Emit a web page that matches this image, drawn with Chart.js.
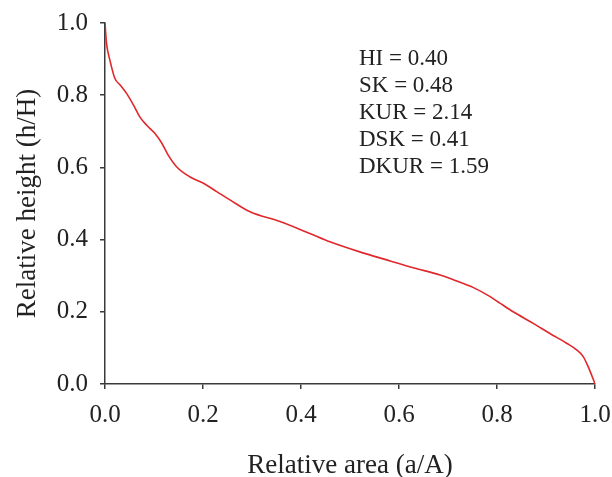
<!DOCTYPE html>
<html lang="en">

<head>
    <meta charset="UTF-8">
    <title>Hypsometric curve</title>
    <script src="https://cdn.jsdelivr.net/npm/chart.js"></script>
    <style>
        html, body { margin: 0; padding: 0; background: #fff; }
        #wrap { width: 612px; height: 477px; }
    </style>
</head>

<body>
    <div id="wrap">
        <canvas id="grafico" width="612" height="477"></canvas>
    </div>
</body>

</html>
<script>
    // relative area (a/A) and relative height (h/H)
    var relArea = [0, 0.003, 0.010, 0.020, 0.031, 0.044, 0.058, 0.071, 0.085, 0.102,
        0.116, 0.129, 0.146, 0.173, 0.201, 0.228, 0.255, 0.296, 0.357, 0.418,
        0.459, 0.520, 0.582, 0.629, 0.684, 0.718, 0.752, 0.786, 0.806, 0.833,
        0.874, 0.908, 0.942, 0.963, 0.976, 0.986, 0.997, 1.0];
    var relHeight = [1.0, 0.945, 0.897, 0.847, 0.828, 0.805, 0.773, 0.740, 0.717, 0.694,
        0.667, 0.634, 0.602, 0.574, 0.556, 0.533, 0.510, 0.477, 0.450, 0.417,
        0.394, 0.366, 0.341, 0.322, 0.302, 0.285, 0.267, 0.242, 0.224, 0.200,
        0.168, 0.140, 0.113, 0.094, 0.076, 0.048, 0.011, 0.0];

    var stats = ["HI = 0.40", "SK = 0.48", "KUR = 2.14", "DSK = 0.41", "DKUR = 1.59"];

    var pontos = [];
    for (var i = 0; i < relArea.length; i++) {
        pontos.push({ x: relArea[i], y: relHeight[i] });
    }

    var fonte = "'Liberation Serif', 'Times New Roman', serif";
    var corEixo = '#3a3a3a';

    // escreve as estatisticas no canto superior direito
    var textoStats = {
        id: 'textoStats',
        afterDraw: function (chart) {
            var ctx = chart.ctx;
            ctx.save();
            ctx.fillStyle = '#222';
            ctx.font = '23px ' + fonte;
            ctx.textBaseline = 'middle';
            ctx.textAlign = 'left';
            for (var k = 0; k < stats.length; k++) {
                ctx.fillText(stats[k], 359, 59 + k * 27);
            }
            ctx.restore();
        }
    };

    var config = {
        type: 'scatter',
        data: {
            datasets: [{
                data: pontos,
                showLine: true,
                borderColor: '#e0282c',
                borderWidth: 1.6,
                pointRadius: 0,
                fill: false,
                cubicInterpolationMode: 'monotone'
            }]
        },
        options: {
            responsive: false,
            animation: false,
            layout: { padding: { top: 23, right: 17, bottom: 0, left: 0 } },
            plugins: {
                legend: { display: false },
                tooltip: { enabled: false }
            },
            scales: {
                x: {
                    type: 'linear',
                    min: 0,
                    max: 1,
                    afterFit: function (s) {
                        s.height = 93;
                        s.paddingLeft = 0;
                        s.paddingRight = 0;
                    },
                    ticks: {
                        stepSize: 0.2,
                        color: '#222',
                        padding: 11,
                        maxRotation: 0,
                        font: { family: fonte, size: 25 },
                        callback: function (v) { return v.toFixed(1); }
                    },
                    grid: { drawOnChartArea: false, drawTicks: true, tickLength: 5, color: corEixo, lineWidth: 1.5 },
                    border: { display: true, color: corEixo, width: 1.5 },
                    title: {
                        display: true,
                        text: 'Relative area (a/A)',
                        color: '#222',
                        font: { family: fonte, size: 27, lineHeight: 1.0 },
                        padding: { top: 0, bottom: -2 }
                    }
                },
                y: {
                    type: 'linear',
                    min: 0,
                    max: 1,
                    afterFit: function (s) {
                        s.width = 105;
                        s.paddingTop = 0;
                        s.paddingBottom = 0;
                    },
                    ticks: {
                        stepSize: 0.2,
                        color: '#222',
                        padding: 12,
                        font: { family: fonte, size: 25 },
                        callback: function (v) { return v.toFixed(1); }
                    },
                    grid: { drawOnChartArea: false, drawTicks: true, tickLength: 5, color: corEixo, lineWidth: 1.5 },
                    border: { display: true, color: corEixo, width: 1.5 },
                    title: {
                        display: true,
                        text: 'Relative height (h/H)',
                        color: '#222',
                        font: { family: fonte, size: 27, lineHeight: 1.0 },
                        padding: { top: 14, bottom: 0 }
                    }
                }
            }
        },
        plugins: [textoStats]
    };

    var chartCurva = new Chart(document.getElementById('grafico'), config);
</script>
